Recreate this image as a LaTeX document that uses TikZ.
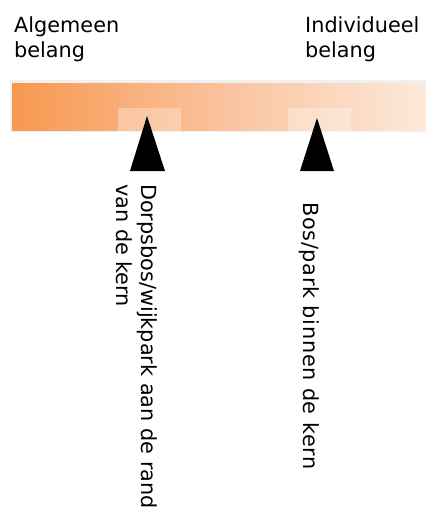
\documentclass[tikz,border=0pt]{standalone}
\usepackage{fontspec}
\setmainfont{DejaVu Sans}
\usepackage{tikz}
\usetikzlibrary{positioning}
\definecolor{BarLeft}{RGB}{247,152,80}
\definecolor{BarMid}{RGB}{250,196,160}
\definecolor{BarRight}{RGB}{253,233,219}
\definecolor{BarEdge}{gray}{0.94}

\begin{document}
\begin{tikzpicture}[x=1pt, y=-1pt, every node/.style={font=\fontsize{20.8}{25}\selectfont}]
\tikzstyle{label}=[inner sep=0pt, anchor=north west, align=left]
\tikzstyle{sidelabel}=[label, rotate=-90]
\tikzstyle{pointer}=[fill=black]
\tikzstyle{patch}=[fill=white, fill opacity=0.3]
\useasboundingbox (0,0) rectangle (426,517);
% scale bar
\fill[BarEdge] (10,80) rectangle (426,132);
\shade[left color=BarLeft, right color=BarMid] (12,83) rectangle (230,130);
\shade[left color=BarMid, right color=BarRight] (230,83) rectangle (426,130);
\node[label] (algemeen) at (14,16) {Algemeen\\belang};
\node[label] (individueel) at (305,16) {Individueel\\belang};
% pointers
\fill[patch] (118,108) rectangle (181,190);
\fill[patch] (288,108) rectangle (351,190);
\fill[pointer] (147,116) -- (165,171) -- (130,171) -- cycle;
\fill[pointer] (317,118) -- (334,171) -- (300,171) -- cycle;
\node[sidelabel] (dorpsbos) at (158,184) {Dorpsbos/wijkpark aan de rand\\van de kern};
\node[sidelabel] (bospark) at (320,202) {\addfontfeature{LetterSpace=3.4}Bos/park binnen de kern};
\end{tikzpicture}
\end{document}
